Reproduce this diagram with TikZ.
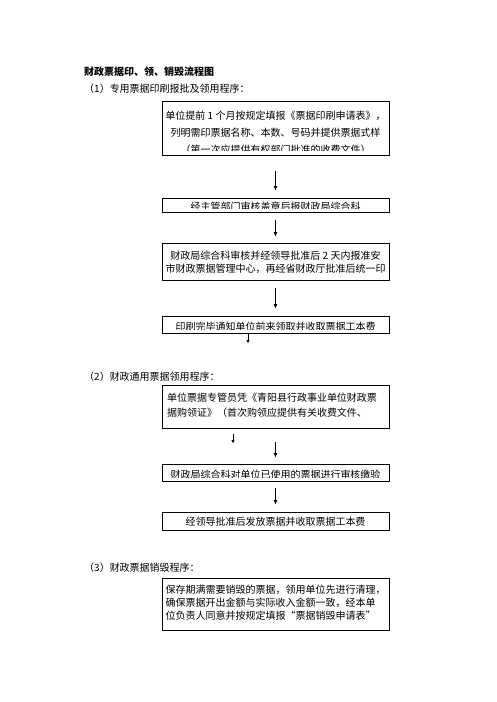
\documentclass[tikz,border=0pt]{standalone}
\usepackage{fontspec}
\setmainfont{Noto Sans CJK SC}
\usetikzlibrary{arrows.meta}

\begin{document}
\begin{tikzpicture}[
  x=1pt,
  y=-1pt,
  line join=round,
  stepbox/.style={draw=black,line width=0.9pt,minimum width=227pt,inner sep=0pt},
  boxtext/.style={font=\fontsize{10}{12}\selectfont,inner sep=0pt,align=center},
  heading/.style={font=\fontsize{10}{12}\selectfont,anchor=west,inner sep=0pt},
  flow/.style={draw=black,line width=0.9pt,-{Latex[length=4.5pt,width=4pt]}},
  smallflow/.style={draw=black,line width=0.5pt,-{Triangle[length=3pt,width=3pt]}}
]
  % Page frame of the scanned flow chart.
  \useasboundingbox (0,0) rectangle (496,702);

  % Title and the three section headings.
  \node[heading,font=\fontsize{10}{12}\selectfont\bfseries] (title) at (84,72) {财政票据印、领、销毁流程图};
  \node[heading] (specialHead) at (84,89) {（1）专用票据印刷报批及领用程序：};
  \node[heading] (generalHead) at (84,377) {（2）财政通用票据领用程序：};
  \node[heading] (destroyHead) at (84,568) {（3）财政票据销毁程序：};

  % Step boxes, all sharing one column.
  \node[stepbox,minimum height=54pt] (apply) at (275.5,128) {};
  \node[stepbox,minimum height=14pt] (review) at (275.5,205) {};
  \node[stepbox,minimum height=37pt] (approve) at (275.5,261.5) {};
  \node[stepbox,minimum height=17pt] (printed) at (275.5,324.5) {};
  \node[stepbox,minimum height=43pt] (permit) at (275.5,406.5) {};
  \node[stepbox,minimum height=17pt] (verify) at (275.5,472.5) {};
  \node[stepbox,minimum height=18pt] (issue) at (275.5,521) {};
  \node[stepbox,minimum height=52pt] (destroy) at (275.5,604) {};

  % Box texts; the cut-off lines are clipped by their box as in the scan.
  \begin{scope}
    \clip (apply.north west) rectangle ([yshift=5pt]apply.south east);
    \node[boxtext,font=\fontsize{10}{17}\selectfont] (applyText) at (275.5,132.5)
      {单位提前 1 个月按规定填报《票据印刷申请表》，\\列明需印票据名称、本数、号码并提供票据式样\\（第一次应提供有权部门批准的收费文件）};
  \end{scope}
  \begin{scope}
    \clip (review.north west) rectangle ([yshift=3.5pt]review.south east);
    \node[boxtext] (reviewText) at (275.5,207) {经主管部门审核盖章后报财政局综合科};
  \end{scope}
  \node[boxtext,font=\fontsize{10}{12.5}\selectfont] (approveText) at (275.5,262.5)
    {财政局综合科审核并经领导批准后 2 天内报准安\\市财政票据管理中心，再经省财政厅批准后统一印};
  \begin{scope}
    \clip (printed.north west) rectangle ([yshift=4pt]printed.south east);
    \node[boxtext] (printedText) at (275.5,326.5) {印刷完毕通知单位前来领取并收取票据工本费};
  \end{scope}
  \node[boxtext,font=\fontsize{10}{15}\selectfont,align=left] (permitText) at (272,405)
    {单位票据专管员凭《青阳县行政事业单位财政票\\据购领证》（首次购领应提供有关收费文件、};
  \begin{scope}
    \clip (verify.north west) rectangle ([yshift=4pt]verify.south east);
    \node[boxtext] (verifyText) at (275.5,474.5) {财政局综合科对单位已使用的票据进行审核缴验};
  \end{scope}
  \node[boxtext] (issueText) at (275.5,522) {经领导批准后发放票据并收取票据工本费};
  \node[boxtext,font=\fontsize{10}{13}\selectfont,align=left] (destroyText) at (275.5,603)
    {保存期满需要销毁的票据，领用单位先进行清理，\\确保票据开出金额与实际收入金额一致，经本单\\位负责人同意并按规定填报“票据销毁申请表”};

  % Flow arrows between the boxes, leaving the scan's gaps.
  \draw[flow,shorten <=16pt,shorten >=7pt] (apply) -- (review);
  \draw[flow,shorten <=8pt,shorten >=6pt] (review) -- (approve);
  \draw[flow,shorten <=8pt,shorten >=7pt] (approve) -- (printed);
  \draw[flow,shorten <=14pt,shorten >=6pt] (permit) -- (verify);
  \draw[flow,shorten <=7pt,shorten >=7pt] (verify) -- (issue);

  % Stray small arrows under two boxes.
  \coordinate (printedEnd) at (248,343);
  \draw[smallflow,shorten <=1pt] (printed.south -| printedEnd) -- (printedEnd);
  \coordinate (permitEnd) at (233,443);
  \draw[smallflow,shorten <=6pt] (permit.south -| permitEnd) -- (permitEnd);
\end{tikzpicture}
\end{document}
